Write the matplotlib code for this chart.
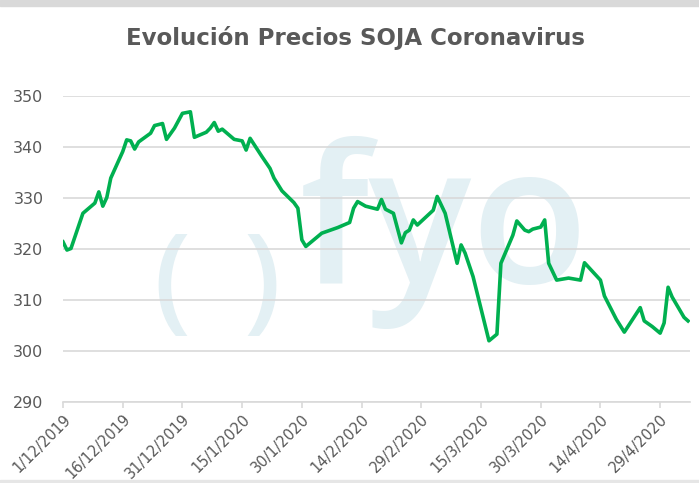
import pandas as pd
import matplotlib.pyplot as plt
from matplotlib.patches import Rectangle

# -----------------------------
# Data
# -----------------------------
dates = ["2019-12-01", "2019-12-02", "2019-12-03", "2019-12-06", "2019-12-09",
         "2019-12-10", "2019-12-11", "2019-12-12", "2019-12-13", "2019-12-16",
         "2019-12-17", "2019-12-18", "2019-12-19", "2019-12-20", "2019-12-23",
         "2019-12-24", "2019-12-26", "2019-12-27", "2019-12-29", "2019-12-31",
         "2020-01-02", "2020-01-03", "2020-01-06", "2020-01-07", "2020-01-08",
         "2020-01-09", "2020-01-10", "2020-01-13", "2020-01-15", "2020-01-16",
         "2020-01-17", "2020-01-20", "2020-01-22", "2020-01-23", "2020-01-25",
         "2020-01-28", "2020-01-29", "2020-01-30", "2020-01-31", "2020-02-04",
         "2020-02-08", "2020-02-11", "2020-02-12", "2020-02-13", "2020-02-15",
         "2020-02-18", "2020-02-19", "2020-02-20", "2020-02-22", "2020-02-24",
         "2020-02-25", "2020-02-26", "2020-02-27", "2020-02-28", "2020-03-03",
         "2020-03-04", "2020-03-06", "2020-03-09", "2020-03-10", "2020-03-11",
         "2020-03-13", "2020-03-17", "2020-03-19", "2020-03-20", "2020-03-23",
         "2020-03-24", "2020-03-26", "2020-03-27", "2020-03-28", "2020-03-30",
         "2020-03-31", "2020-04-01", "2020-04-03", "2020-04-06", "2020-04-09",
         "2020-04-10", "2020-04-14", "2020-04-15", "2020-04-18", "2020-04-20",
         "2020-04-24", "2020-04-25", "2020-04-27", "2020-04-29", "2020-04-30",
         "2020-05-01", "2020-05-02", "2020-05-05", "2020-05-06"]

prices = [321.4, 319.8, 320.1, 327.0, 329.0,
          331.2, 328.4, 330.1, 333.9, 339.1,
          341.4, 341.2, 339.6, 341.0, 342.7,
          344.2, 344.6, 341.5, 343.7, 346.6,
          346.9, 341.9, 342.9, 343.7, 344.8,
          343.1, 343.5, 341.5, 341.2, 339.4,
          341.7, 338.1, 335.8, 333.9, 331.4,
          329.1, 328.0, 321.8, 320.5, 323.1,
          324.2, 325.2, 328.0, 329.3, 328.4,
          327.8, 329.7, 327.8, 327.0, 321.2,
          323.2, 323.7, 325.7, 324.7, 327.6,
          330.3, 327.0, 317.2, 320.8, 319.2,
          314.6, 302.0, 303.3, 317.2, 322.7,
          325.5, 323.7, 323.4, 323.9, 324.3,
          325.7, 317.2, 313.9, 314.3, 313.9,
          317.3, 313.9, 310.8, 306.2, 303.7,
          308.5, 305.9, 304.8, 303.5, 305.5,
          312.5, 310.6, 306.6, 305.9]

tick_dates = ["2019-12-01", "2019-12-16", "2019-12-31", "2020-01-15", "2020-01-30",
              "2020-02-14", "2020-02-29", "2020-03-15", "2020-03-30", "2020-04-14",
              "2020-04-29"]
tick_labels = ["1/12/2019", "16/12/2019", "31/12/2019", "15/1/2020", "30/1/2020",
               "14/2/2020", "29/2/2020", "15/3/2020", "30/3/2020", "14/4/2020",
               "29/4/2020"]
y_ticks = [290, 300, 310, 320, 330, 340, 350]

x = pd.to_datetime(dates)
xt = pd.to_datetime(tick_dates)

# -----------------------------
# Figure
# -----------------------------
W, H = 699, 483
fig = plt.figure(figsize=(W / 100, H / 100), dpi=100)
ax = fig.add_axes([63 / W, 1 - 402 / H, (690 - 63) / W, (402 - 96) / H])
ax.set_facecolor("none")

# top / bottom border bands
fig.patches.append(Rectangle((0, 1 - 6 / H), 1, 6 / H, transform=fig.transFigure,
                             color="#d9d9d9", zorder=-5))
fig.patches.append(Rectangle((0, 0), 1, 3 / H, transform=fig.transFigure,
                             color="#e6e6e6", zorder=-5))

# watermark
wm = "#e3f0f4"
fig.text(300 / W, 1 - 283 / H, "fyo", fontsize=138, family="Open Sans",
         fontweight="semibold", color=wm, ha="left", va="baseline", zorder=-2)
fig.text(172 / W, 1 - 288 / H, "(", fontsize=84, family="Open Sans",
         fontweight="semibold", color=wm, ha="center", va="center", zorder=-2)
fig.text(262 / W, 1 - 288 / H, ")", fontsize=84, family="Open Sans",
         fontweight="semibold", color=wm, ha="center", va="center", zorder=-2)

# price line
ax.plot(x, prices, color="#00b050", linewidth=2.6, solid_joinstyle="round",
        zorder=3)

ax.set_ylim(290, 350)
ax.set_xlim(pd.Timestamp("2019-12-01"), pd.Timestamp("2020-05-06 12:00"))
ax.set_yticks(y_ticks)
ax.grid(axis="y", color="#d9d9d9", linewidth=1.2)
ax.set_axisbelow(True)

for s in ["top", "right", "left"]:
    ax.spines[s].set_visible(False)
ax.spines["bottom"].set_color("#d9d9d9")
ax.spines["bottom"].set_linewidth(1.2)

ax.set_xticks(xt)
ax.set_xticklabels(tick_labels, rotation=45, ha="right", rotation_mode="anchor")
ax.tick_params(axis="x", colors="#d9d9d9", length=4, width=1.2, labelcolor="#595959",
               labelsize=10.5, pad=3)
ax.tick_params(axis="y", length=0, labelcolor="#595959", labelsize=11.5, pad=14)

fig.text(355 / W, 1 - 38 / H, "Evolución Precios SOJA Coronavirus", fontsize=16.5,
         fontweight="bold", color="#595959", ha="center", va="center")

fig.savefig("out.png", dpi=100)
